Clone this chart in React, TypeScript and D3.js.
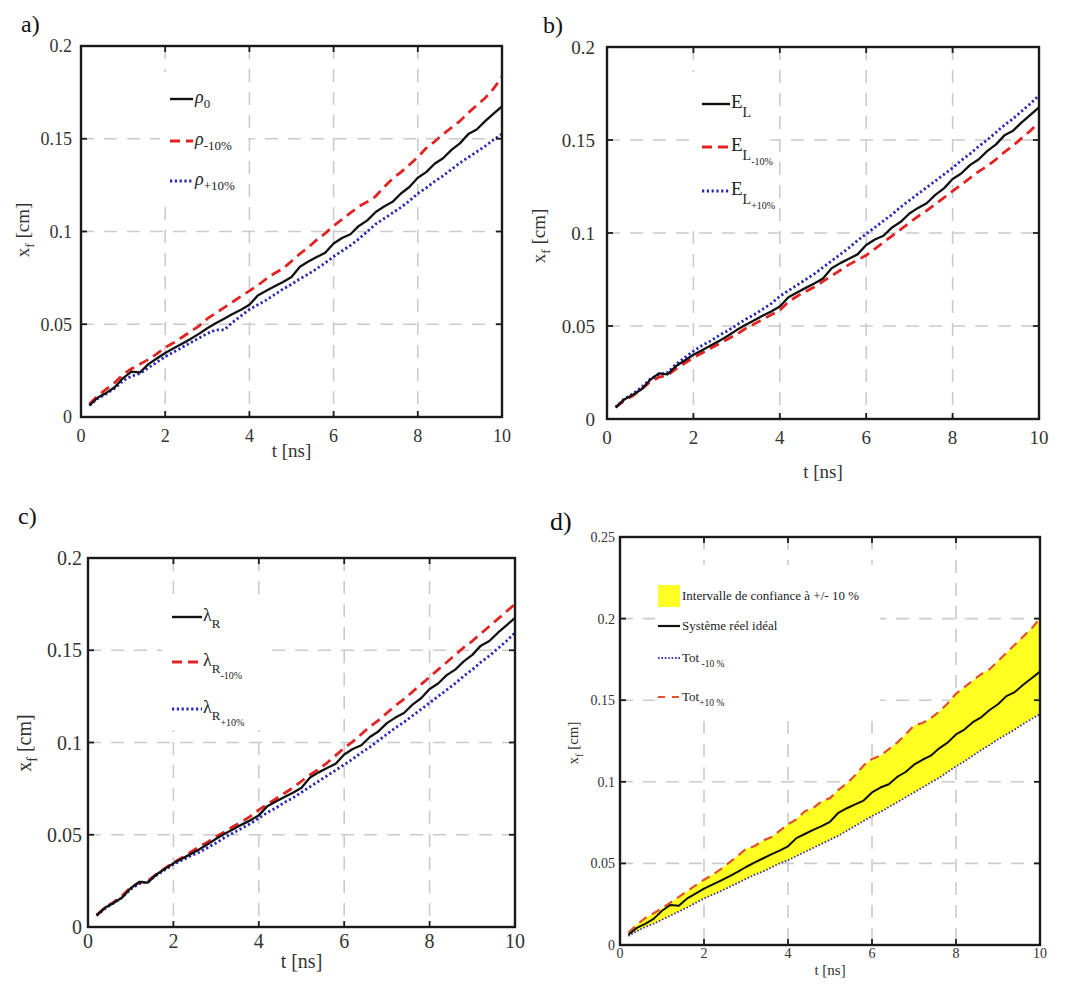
import React from "react";
import * as d3 from "d3";

// time grid [ns]
const T = [0.2,0.4,0.6,0.8,1.0,1.2,1.4,1.6,1.8,2.0,2.2,2.4,2.6,2.8,3.0,3.2,3.4,3.6,3.8,4.0,4.2,4.4,4.6,4.8,5.0,5.2,5.4,5.6,5.8,6.0,6.2,6.4,6.6,6.8,7.0,7.2,7.4,7.6,7.8,8.0,8.2,8.4,8.6,8.8,9.0,9.2,9.4,9.6,9.8,10.0];

// nominal (rho0 = E_L = lambda_R = système réel idéal)
const nominal = [0.0063,0.0105,0.0130,0.0160,0.0210,0.0245,0.0240,0.0285,0.0315,0.0345,0.0370,0.0395,0.0420,0.0448,0.0478,0.0505,0.0530,0.0555,0.0578,0.0605,0.0655,0.0680,0.0705,0.0728,0.0755,0.0810,0.0838,0.0862,0.0885,0.0935,0.0965,0.0985,0.1030,0.1060,0.1105,0.1135,0.1160,0.1205,0.1240,0.1290,0.1320,0.1365,0.1395,0.1440,0.1475,0.1525,0.1550,0.1595,0.1635,0.1675];

// a) density
const rhoMinus10 = [0.0070,0.0115,0.0150,0.0185,0.0230,0.0260,0.0285,0.0310,0.0340,0.0375,0.0400,0.0430,0.0460,0.0490,0.0530,0.0560,0.0590,0.0620,0.0650,0.0680,0.0710,0.0745,0.0775,0.0800,0.0840,0.0880,0.0915,0.0955,0.0990,0.1030,0.1065,0.1100,0.1135,0.1160,0.1190,0.1240,0.1285,0.1320,0.1360,0.1400,0.1450,0.1485,0.1525,0.1560,0.1595,0.1640,0.1680,0.1720,0.1770,0.1835];
const rhoPlus10 = [0.0063,0.0100,0.0125,0.0155,0.0195,0.0220,0.0235,0.0265,0.0295,0.0325,0.0350,0.0375,0.0400,0.0425,0.0450,0.0470,0.0470,0.0510,0.0545,0.0580,0.0605,0.0630,0.0660,0.0690,0.0715,0.0745,0.0770,0.0800,0.0830,0.0865,0.0895,0.0925,0.0960,0.1000,0.1040,0.1070,0.1100,0.1130,0.1165,0.1205,0.1235,0.1270,0.1300,0.1335,0.1370,0.1400,0.1430,0.1460,0.1495,0.1525];

// b) E_L
const eMinus10 = [0.0063,0.0100,0.0125,0.0160,0.0200,0.0225,0.0235,0.0270,0.0300,0.0330,0.0355,0.0380,0.0405,0.0430,0.0455,0.0485,0.0510,0.0535,0.0560,0.0585,0.0630,0.0660,0.0685,0.0710,0.0740,0.0770,0.0800,0.0830,0.0855,0.0880,0.0915,0.0950,0.0985,0.1020,0.1055,0.1090,0.1120,0.1155,0.1190,0.1225,0.1260,0.1295,0.1330,0.1360,0.1395,0.1435,0.1470,0.1510,0.1550,0.1595];
const ePlus10 = [0.0063,0.0108,0.0135,0.0170,0.0215,0.0240,0.0250,0.0295,0.0330,0.0365,0.0395,0.0420,0.0450,0.0475,0.0505,0.0535,0.0560,0.0590,0.0620,0.0660,0.0690,0.0720,0.0750,0.0780,0.0815,0.0850,0.0885,0.0920,0.0960,0.0995,0.1030,0.1065,0.1100,0.1140,0.1175,0.1210,0.1245,0.1280,0.1315,0.1350,0.1390,0.1425,0.1465,0.1500,0.1540,0.1580,0.1615,0.1655,0.1695,0.1740];

// c) lambda_R
const lamMinus10 = [0.0063,0.0105,0.0135,0.0170,0.0215,0.0240,0.0250,0.0285,0.0318,0.0350,0.0375,0.0405,0.0435,0.0460,0.0490,0.0515,0.0545,0.0570,0.0600,0.0635,0.0665,0.0695,0.0725,0.0755,0.0790,0.0825,0.0855,0.0890,0.0930,0.0970,0.1005,0.1045,0.1085,0.1120,0.1160,0.1200,0.1235,0.1275,0.1315,0.1355,0.1395,0.1435,0.1475,0.1515,0.1550,0.1590,0.1630,0.1670,0.1710,0.1750];
const lamPlus10 = [0.0063,0.0100,0.0130,0.0160,0.0205,0.0235,0.0245,0.0280,0.0310,0.0340,0.0362,0.0385,0.0405,0.0430,0.0455,0.0485,0.0510,0.0535,0.0560,0.0590,0.0620,0.0645,0.0675,0.0700,0.0730,0.0760,0.0790,0.0820,0.0850,0.0880,0.0910,0.0945,0.0975,0.1010,0.1045,0.1080,0.1110,0.1145,0.1180,0.1215,0.1250,0.1285,0.1320,0.1360,0.1395,0.1435,0.1470,0.1510,0.1550,0.1595];

// d) total
const totPlus10 = [0.0075,0.0125,0.0165,0.0195,0.0225,0.0260,0.0295,0.0330,0.0365,0.0400,0.0430,0.0465,0.0505,0.0545,0.0590,0.0605,0.0640,0.0660,0.0700,0.0740,0.0770,0.0820,0.0840,0.0880,0.0900,0.0950,0.0990,0.1040,0.1100,0.1140,0.1160,0.1200,0.1240,0.1290,0.1345,0.1360,0.1390,0.1430,0.1480,0.1540,0.1580,0.1620,0.1660,0.1690,0.1740,0.1790,0.1840,0.1890,0.1940,0.2000];
const totMinus10 = [0.0055,0.0085,0.0110,0.0130,0.0155,0.0180,0.0205,0.0230,0.0258,0.0285,0.0308,0.0330,0.0355,0.0380,0.0405,0.0430,0.0450,0.0475,0.0500,0.0520,0.0545,0.0570,0.0595,0.0620,0.0645,0.0670,0.0700,0.0730,0.0760,0.0790,0.0815,0.0845,0.0875,0.0905,0.0935,0.0965,0.0995,0.1025,0.1060,0.1095,0.1125,0.1160,0.1195,0.1225,0.1260,0.1290,0.1320,0.1355,0.1385,0.1415];

const xTicks = [0, 2, 4, 6, 8, 10];
const xTickLabels = ["0", "2", "4", "6", "8", "10"];
const yTicksABC = [0, 0.05, 0.1, 0.15, 0.2];
const yTickLabelsABC = ["0", "0.05", "0.1", "0.15", "0.2"];
const yTicksD = [0, 0.05, 0.1, 0.15, 0.2, 0.25];
const yTickLabelsD = ["0", "0.05", "0.1", "0.15", "0.2", "0.25"];

const FONT = "'Liberation Serif', 'DejaVu Serif', serif";
const BLACK = "#111111";
const RED = "#e32222";
const BLUE = "#2626b8";
const RED_D = "#e0522a";
const BLUE_D = "#3535a5";
const YELLOW = "#ffff22";
const GRID = "#cbcbcb";

type Seg = { t: string; size: number; dy?: number; italic?: boolean };
type Style = { color: string; dash?: string; width: number };
type LegendItem = { style?: Style; box?: string; y: number; segs: Seg[] };

type PanelCfg = {
  left: number; top: number; right: number; bottom: number;
  yMax: number; yTicks: number[]; yTickLabels: string[];
  tickFont: number; labelFont: number;
  xTickDy: number; yTickGap: number; xLabelDy: number; yLabelX: number; yLabelY: number;
  letter: string; letterX: number; letterY: number; letterSize: number;
  series: { values: number[]; style: Style }[];
  band?: { lo: number[]; hi: number[]; color: string };
  legendBox: [number, number, number, number];
  legendX0: number; legendX1: number; legendTextX: number;
  legend: LegendItem[];
};

const solid = (w: number): Style => ({ color: BLACK, width: w });
const dashed = (c: string, w: number): Style => ({ color: c, width: w, dash: "10,6" });
const dotted = (c: string, w: number): Style => ({ color: c, width: w, dash: "2.2,2.6" });

function SegText({ x, y, segs }: { x: number; y: number; segs: Seg[] }) {
  return (
    <text x={x} y={y} fontFamily={FONT} fill="#222">
      {segs.map((s, i) => (
        <tspan key={i} fontSize={s.size} dy={s.dy || 0} fontStyle={s.italic ? "italic" : "normal"}>
          {s.t}
        </tspan>
      ))}
    </text>
  );
}

function Panel({ c }: { c: PanelCfg }) {
  const x = d3.scaleLinear().domain([0, 10]).range([c.left, c.right]);
  const y = d3.scaleLinear().domain([0, c.yMax]).range([c.bottom, c.top]);
  const line = d3.line<number>().x((_, i) => x(T[i])).y((v) => y(v));
  const area = c.band
    ? d3.area<number>().x((_, i) => x(T[i])).y0((_, i) => y(c.band!.lo[i])).y1((v) => y(v))
    : null;
  const tickLen = 6;
  const [bx, by, bw, bh] = c.legendBox;
  return (
    <g>
      <text x={c.letterX} y={c.letterY} fontFamily={FONT} fontSize={c.letterSize} fill="#111">{c.letter}</text>
      {xTicks.slice(1, -1).map((t) => (
        <line key={"gx" + t} x1={x(t)} x2={x(t)} y1={c.top} y2={c.bottom} stroke={GRID} strokeWidth={1.6} strokeDasharray="13,10" />
      ))}
      {c.yTicks.slice(1, -1).map((t) => (
        <line key={"gy" + t} x1={c.left} x2={c.right} y1={y(t)} y2={y(t)} stroke={GRID} strokeWidth={1.6} strokeDasharray="13,10" />
      ))}
      {area && c.band && <path d={area(c.band.hi) || ""} fill={c.band.color} stroke="none" />}
      {c.series.map((s, i) => (
        <path key={i} d={line(s.values) || ""} fill="none" stroke={s.style.color} strokeWidth={s.style.width}
          strokeDasharray={s.style.dash} strokeLinejoin="round" />
      ))}
      <rect x={bx} y={by} width={bw} height={bh} fill="#fff" />
      {c.legend.map((it, i) => (
        <g key={"lg" + i}>
          {it.box && <rect x={c.legendX0} y={it.y - 11} width={c.legendX1 - c.legendX0} height={22} fill={it.box} />}
          {it.style && (
            <line x1={c.legendX0} x2={c.legendX1} y1={it.y} y2={it.y} stroke={it.style.color} strokeWidth={it.style.width}
              strokeDasharray={it.style.dash} />
          )}
          <SegText x={c.legendTextX} y={it.y + 4} segs={it.segs} />
        </g>
      ))}
      <rect x={c.left} y={c.top} width={c.right - c.left} height={c.bottom - c.top} fill="none" stroke="#1a1a1a" strokeWidth={2.4} />
      {xTicks.map((t) => (
        <g key={"tx" + t}>
          <line x1={x(t)} x2={x(t)} y1={c.bottom} y2={c.bottom - tickLen} stroke="#1a1a1a" strokeWidth={1.8} />
          <line x1={x(t)} x2={x(t)} y1={c.top} y2={c.top + tickLen} stroke="#1a1a1a" strokeWidth={1.8} />
        </g>
      ))}
      {c.yTicks.map((t) => (
        <g key={"ty" + t}>
          <line x1={c.left} x2={c.left + tickLen} y1={y(t)} y2={y(t)} stroke="#1a1a1a" strokeWidth={1.8} />
          <line x1={c.right} x2={c.right - tickLen} y1={y(t)} y2={y(t)} stroke="#1a1a1a" strokeWidth={1.8} />
        </g>
      ))}
      {xTicks.map((t, i) => (
        <text key={"lx" + t} x={x(t)} y={c.bottom + c.xTickDy} dy="0.35em" textAnchor="middle" fontFamily={FONT}
          fontSize={c.tickFont} fill="#333">{xTickLabels[i]}</text>
      ))}
      {c.yTicks.map((t, i) => (
        <text key={"ly" + t} x={c.left - c.yTickGap} y={y(t)} dy="0.35em" textAnchor="end" fontFamily={FONT}
          fontSize={c.tickFont} fill="#333">{c.yTickLabels[i]}</text>
      ))}
      <text x={(c.left + c.right) / 2} y={c.bottom + c.xLabelDy} dy="0.35em" textAnchor="middle" fontFamily={FONT}
        fontSize={c.labelFont} fill="#333">t [ns]</text>
      <text transform={`translate(${c.yLabelX},${c.yLabelY}) rotate(-90)`} textAnchor="middle" dy="0.35em"
        fontFamily={FONT} fontSize={c.labelFont} fill="#333">
        <tspan>x</tspan>
        <tspan fontSize={c.labelFont * 0.7} dy={c.labelFont * 0.3}>f</tspan>
        <tspan dy={-c.labelFont * 0.3}> [cm]</tspan>
      </text>
    </g>
  );
}

const panels: PanelCfg[] = [
  {
    left: 81, top: 46, right: 502, bottom: 417, yMax: 0.2, yTicks: yTicksABC, yTickLabels: yTickLabelsABC,
    tickFont: 18, labelFont: 19, xTickDy: 19, yTickGap: 9, xLabelDy: 33, yLabelX: 22, yLabelY: 230,
    letter: "a)", letterX: 21, letterY: 32, letterSize: 24,
    series: [
      { values: rhoMinus10, style: dashed(RED, 2.8) },
      { values: rhoPlus10, style: dotted(BLUE, 2.8) },
      { values: nominal, style: solid(2.3) },
    ],
    legendBox: [160, 72, 88, 126], legendX0: 170, legendX1: 193, legendTextX: 195,
    legend: [
      { style: solid(2.4), y: 99, segs: [{ t: "ρ", size: 18, italic: true }, { t: "0", size: 13, dy: 5 }] },
      { style: dashed(RED, 2.8), y: 141, segs: [{ t: "ρ", size: 18, italic: true }, { t: "-10%", size: 13, dy: 5 }] },
      { style: dotted(BLUE, 2.8), y: 181, segs: [{ t: "ρ", size: 18, italic: true }, { t: "+10%", size: 13, dy: 5 }] },
    ],
  },
  {
    left: 607, top: 47, right: 1039, bottom: 419, yMax: 0.2, yTicks: yTicksABC, yTickLabels: yTickLabelsABC,
    tickFont: 19, labelFont: 19, xTickDy: 18, yTickGap: 12, xLabelDy: 52, yLabelX: 538, yLabelY: 236,
    letter: "b)", letterX: 543, letterY: 33, letterSize: 24,
    series: [
      { values: eMinus10, style: dashed(RED, 2.8) },
      { values: ePlus10, style: dotted(BLUE, 2.8) },
      { values: nominal, style: solid(2.3) },
    ],
    legendBox: [690, 72, 80, 155], legendX0: 702, legendX1: 730, legendTextX: 731,
    legend: [
      { style: solid(2.4), y: 104, segs: [{ t: "E", size: 19 }, { t: "L", size: 14, dy: 9 }] },
      { style: dashed(RED, 2.8), y: 147, segs: [{ t: "E", size: 19 }, { t: "L", size: 14, dy: 9 }, { t: "-10%", size: 10, dy: 5 }] },
      { style: dotted(BLUE, 2.8), y: 191, segs: [{ t: "E", size: 19 }, { t: "L", size: 14, dy: 9 }, { t: "+10%", size: 10, dy: 5 }] },
    ],
  },
  {
    left: 88, top: 558, right: 515, bottom: 927, yMax: 0.2, yTicks: yTicksABC, yTickLabels: yTickLabelsABC,
    tickFont: 20, labelFont: 20, xTickDy: 14, yTickGap: 6, xLabelDy: 34, yLabelX: 24, yLabelY: 743,
    letter: "c)", letterX: 18, letterY: 524, letterSize: 24,
    series: [
      { values: lamMinus10, style: dashed(RED, 2.8) },
      { values: lamPlus10, style: dotted(BLUE, 2.8) },
      { values: nominal, style: solid(2.3) },
    ],
    legendBox: [162, 600, 100, 130], legendX0: 172, legendX1: 202, legendTextX: 203,
    legend: [
      { style: solid(2.4), y: 617, segs: [{ t: "λ", size: 18 }, { t: "R", size: 13, dy: 7 }] },
      { style: dashed(RED, 2.8), y: 662, segs: [{ t: "λ", size: 18 }, { t: "R", size: 13, dy: 7 }, { t: "-10%", size: 10, dy: 6 }] },
      { style: dotted(BLUE, 2.8), y: 709, segs: [{ t: "λ", size: 18 }, { t: "R", size: 13, dy: 7 }, { t: "+10%", size: 10, dy: 6 }] },
    ],
  },
  {
    left: 620, top: 537, right: 1040, bottom: 945, yMax: 0.25, yTicks: yTicksD, yTickLabels: yTickLabelsD,
    tickFont: 14, labelFont: 15, xTickDy: 8, yTickGap: 5, xLabelDy: 25, yLabelX: 573, yLabelY: 743,
    letter: "d)", letterX: 550, letterY: 530, letterSize: 26,
    band: { lo: totMinus10, hi: totPlus10, color: YELLOW },
    series: [
      { values: totPlus10, style: { color: RED_D, width: 2.2, dash: "9,6" } },
      { values: totMinus10, style: { color: BLUE_D, width: 1.8, dash: "1.6,1.8" } },
      { values: nominal, style: solid(2) },
    ],
    legendBox: [655, 565, 225, 155], legendX0: 658, legendX1: 680, legendTextX: 682,
    legend: [
      { box: YELLOW, y: 596, segs: [{ t: "Intervalle de confiance à +/- 10 %", size: 13 }] },
      { style: solid(2.2), y: 626, segs: [{ t: "Système réel idéal", size: 13 }] },
      { style: { color: BLUE_D, width: 1.8, dash: "1.6,1.8" }, y: 658, segs: [{ t: " Tot", size: 13 }, { t: " -10 %", size: 9.5, dy: 5 }] },
      { style: { color: RED_D, width: 2.2, dash: "7,7" }, y: 697, segs: [{ t: "Tot", size: 13 }, { t: "+10 %", size: 9.5, dy: 5 }] },
    ],
  },
];

export default function App() {
  return (
    <svg width={1070} height={989} viewBox="0 0 1070 989" style={{ display: "block", position: "absolute", left: 0, top: 0, background: "#fff" }}>
      <rect x={0} y={0} width={1070} height={989} fill="#fff" />
      {panels.map((p, i) => (
        <Panel key={i} c={p} />
      ))}
    </svg>
  );
}
